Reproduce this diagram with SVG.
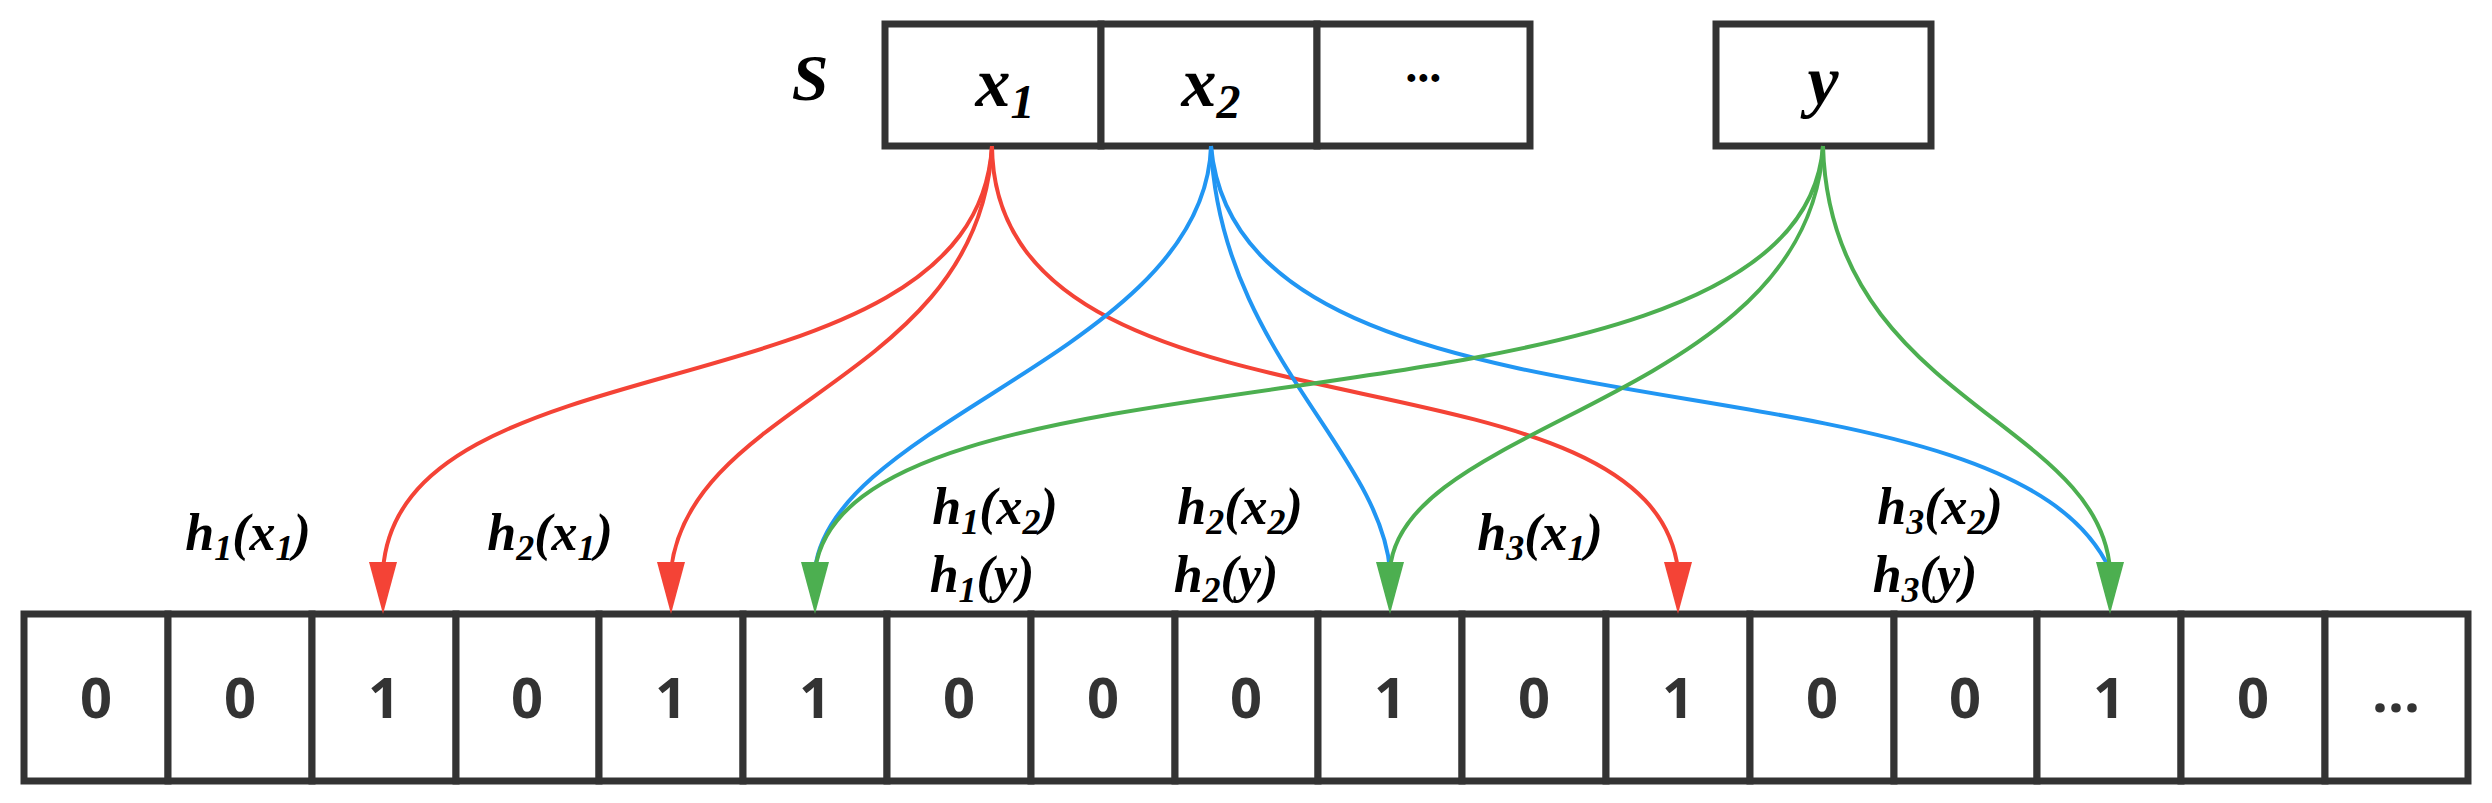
<svg xmlns="http://www.w3.org/2000/svg" width="2492" height="803" viewBox="0 0 2492 803">
<style>
.box{fill:#fff;stroke:#333;stroke-width:7}
.dig{font-family:"Open Sans","Liberation Sans",sans-serif;font-weight:bold;font-size:56px;fill:#333;text-anchor:middle}
.m{font-family:"Liberation Serif",serif;font-style:italic;font-weight:bold;fill:#000}
.lab{font-size:52px}
.r{stroke:#f44336;fill:none;stroke-width:4}
.b{stroke:#2196f3;fill:none;stroke-width:4}
.g{stroke:#4caf50;fill:none;stroke-width:4}
</style>
<rect width="2492" height="803" fill="#fff"/>
<g id="S"><text class="m" x="810" y="100" font-size="66" text-anchor="middle">S</text></g>
<g id="x1"><rect class="box" x="885" y="24" width="216" height="122"/><text class="m" x="1005" y="106" font-size="70" text-anchor="middle">x<tspan font-size="48" dy="12">1</tspan></text></g>
<g id="x2"><rect class="box" x="1101" y="24" width="216" height="122"/><text class="m" x="1211" y="106" font-size="70" text-anchor="middle">x<tspan font-size="48" dy="12">2</tspan></text></g>
<g id="dots"><rect class="box" x="1317" y="24" width="213" height="122"/><text class="m" x="1423" y="94" font-size="48" text-anchor="middle">···</text></g>
<g id="y"><rect class="box" x="1716" y="24" width="215" height="122"/><text class="m" x="1823" y="104" font-size="70" text-anchor="middle">y</text></g>
<g id="array">
<rect class="box" x="24" y="614" width="144" height="167"/><text class="dig" x="96" y="718">0</text>
<rect class="box" x="168" y="614" width="144" height="167"/><text class="dig" x="240" y="718">0</text>
<rect class="box" x="312" y="614" width="144" height="167"/><text class="dig" x="384" y="718">1</text>
<rect class="box" x="456" y="614" width="143" height="167"/><text class="dig" x="527" y="718">0</text>
<rect class="box" x="599" y="614" width="144" height="167"/><text class="dig" x="671" y="718">1</text>
<rect class="box" x="743" y="614" width="144" height="167"/><text class="dig" x="815" y="718">1</text>
<rect class="box" x="887" y="614" width="144" height="167"/><text class="dig" x="959" y="718">0</text>
<rect class="box" x="1031" y="614" width="144" height="167"/><text class="dig" x="1103" y="718">0</text>
<rect class="box" x="1175" y="614" width="143" height="167"/><text class="dig" x="1246" y="718">0</text>
<rect class="box" x="1318" y="614" width="144" height="167"/><text class="dig" x="1390" y="718">1</text>
<rect class="box" x="1462" y="614" width="144" height="167"/><text class="dig" x="1534" y="718">0</text>
<rect class="box" x="1606" y="614" width="144" height="167"/><text class="dig" x="1678" y="718">1</text>
<rect class="box" x="1750" y="614" width="144" height="167"/><text class="dig" x="1822" y="718">0</text>
<rect class="box" x="1894" y="614" width="143" height="167"/><text class="dig" x="1965" y="718">0</text>
<rect class="box" x="2037" y="614" width="144" height="167"/><text class="dig" x="2109" y="718">1</text>
<rect class="box" x="2181" y="614" width="144" height="167"/><text class="dig" x="2253" y="718">0</text>
<rect class="box" x="2325" y="614" width="143" height="167"/><text class="dig" x="2396" y="712">...</text>
</g>
<g id="connectors">
<path class="r" d="M992,146 C975,420 400,330 383,570"/>
<path class="r" d="M992,146 C980,380 690,400 671,570"/>
<path class="r" d="M992,146 C995,460 1650,330 1678,570"/>
<path class="b" d="M1211,146 C1205,350 830,420 815,570"/>
<path class="b" d="M1211,146 C1220,350 1380,450 1390,570"/>
<path class="b" d="M1211,146 C1240,470 2000,330 2110,570"/>
<path class="g" d="M1823,146 C1800,460 850,320 815,570"/>
<path class="g" d="M1823,146 C1810,400 1400,420 1390,570"/>
<path class="g" d="M1823,146 C1830,400 2100,420 2110,570"/>
<polygon fill="#f44336" points="369,562 397,562 383,614"/>
<polygon fill="#f44336" points="657,562 685,562 671,614"/>
<polygon fill="#f44336" points="1664,562 1692,562 1678,614"/>
<polygon fill="#4caf50" points="801,562 829,562 815,614"/>
<polygon fill="#4caf50" points="1376,562 1404,562 1390,614"/>
<polygon fill="#4caf50" points="2096,562 2124,562 2110,614"/>
</g>
<g id="labels" class="m lab" text-anchor="middle">
<text x="248" y="550">h<tspan font-size="36" dy="10">1</tspan><tspan dy="-10">(x</tspan><tspan font-size="36" dy="10">1</tspan><tspan dy="-10">)</tspan></text>
<text x="550" y="550">h<tspan font-size="36" dy="10">2</tspan><tspan dy="-10">(x</tspan><tspan font-size="36" dy="10">1</tspan><tspan dy="-10">)</tspan></text>
<text x="995" y="524">h<tspan font-size="36" dy="10">1</tspan><tspan dy="-10">(x</tspan><tspan font-size="36" dy="10">2</tspan><tspan dy="-10">)</tspan></text>
<text x="982" y="592">h<tspan font-size="36" dy="10">1</tspan><tspan dy="-10">(y)</tspan></text>
<text x="1240" y="524">h<tspan font-size="36" dy="10">2</tspan><tspan dy="-10">(x</tspan><tspan font-size="36" dy="10">2</tspan><tspan dy="-10">)</tspan></text>
<text x="1226" y="592">h<tspan font-size="36" dy="10">2</tspan><tspan dy="-10">(y)</tspan></text>
<text x="1540" y="550">h<tspan font-size="36" dy="10">3</tspan><tspan dy="-10">(x</tspan><tspan font-size="36" dy="10">1</tspan><tspan dy="-10">)</tspan></text>
<text x="1940" y="524">h<tspan font-size="36" dy="10">3</tspan><tspan dy="-10">(x</tspan><tspan font-size="36" dy="10">2</tspan><tspan dy="-10">)</tspan></text>
<text x="1925" y="592">h<tspan font-size="36" dy="10">3</tspan><tspan dy="-10">(y)</tspan></text>
</g>
</svg>
